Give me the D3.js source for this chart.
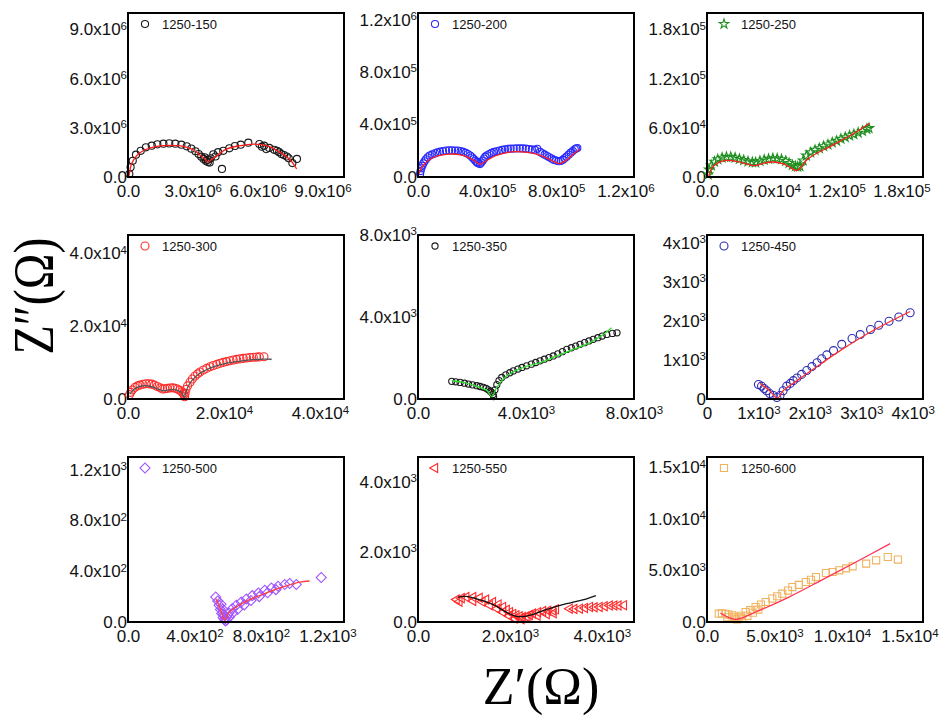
<!DOCTYPE html>
<html><head><meta charset="utf-8">
<script src="https://cdn.jsdelivr.net/npm/d3@7"></script>
<style>
body{margin:0;background:#fff;}
svg{display:block;font-family:"Liberation Sans",Arial,sans-serif;}
</style></head><body>
<svg id="fig" width="940" height="720"></svg>
<script>
// Sample names (sintering 1250 °C, second temperature)
const samples = ["1250-150","1250-200","1250-250","1250-300","1250-350","1250-450","1250-500","1250-550","1250-600"];
// Each panel's values are stored in this unit (Ω)
const units = [1e6,1e5,1e4,1e3,1e3,1e3,1e2,1e3,1e3];

// measured impedance [Z', Z''] and equivalent-circuit fit, per sample
const pts150 = [[0.06,0.18],[0.12,0.59],[0.22,0.99],[0.37,1.36],[0.59,1.60],[0.83,1.81],[1.10,1.91],[1.36,1.99],[1.64,2.03],[1.91,2.05],[2.19,2.03],[2.47,1.97],[2.72,1.87],[2.93,1.73],[3.12,1.57],[3.27,1.40],[3.39,1.24],[3.50,1.10],[3.55,1.20],[3.61,0.98],[3.68,1.05],[3.70,0.91],[3.78,0.88],[3.83,1.14],[3.95,1.38],[4.05,1.25],[4.17,1.51],[4.41,1.60],[4.69,1.75],[4.95,1.89],[5.22,1.97],[5.57,2.09],[6.08,2.01],[6.20,1.85],[6.30,1.91],[6.40,1.70],[6.54,1.77],[6.77,1.66],[6.90,1.60],[7.00,1.51],[7.10,1.40],[7.22,1.34],[7.35,1.25],[7.44,1.14],[7.61,0.85],[7.82,1.10],[4.35,0.49]];
const fit150 = [[0.0,0.0],[0.04,0.08],[0.16,0.79],[0.40,1.30],[0.79,1.66],[1.33,1.87],[1.95,1.93],[2.56,1.87],[3.02,1.66],[3.33,1.34],[3.56,1.10],[3.70,0.91],[3.85,1.05],[4.17,1.35],[4.57,1.71],[5.19,1.91],[5.80,2.01],[6.42,1.91],[7.04,1.50],[7.50,1.05],[7.81,0.49]];

const pts200 = [[0.12,0.23],[0.15,0.45],[0.19,0.66],[0.25,0.85],[0.31,1.04],[0.38,1.20],[0.46,1.35],[0.56,1.50],[0.68,1.63],[0.82,1.72],[0.98,1.80],[1.12,1.87],[1.27,1.93],[1.45,1.97],[1.62,2.01],[1.80,2.03],[1.97,2.03],[2.15,2.02],[2.31,2.01],[2.47,1.97],[2.62,1.91],[2.76,1.84],[2.89,1.75],[3.02,1.63],[3.13,1.50],[3.23,1.37],[3.32,1.24],[3.40,1.13],[3.47,1.04],[3.59,0.99],[3.66,1.10],[3.74,1.24],[3.82,1.40],[3.90,1.55],[4.00,1.65],[4.13,1.75],[4.26,1.83],[4.40,1.91],[4.55,1.96],[4.71,2.01],[4.87,2.06],[5.03,2.11],[5.20,2.14],[5.36,2.16],[5.54,2.17],[5.71,2.18],[5.89,2.19],[6.06,2.18],[6.24,2.16],[6.41,2.13],[6.59,2.10],[6.77,2.06],[6.90,2.15],[7.06,1.91],[7.20,1.80],[7.33,1.70],[7.47,1.60],[7.60,1.50],[7.74,1.40],[7.87,1.30],[8.00,1.25],[8.14,1.20],[8.26,1.22],[8.37,1.30],[8.48,1.42],[8.60,1.55],[8.72,1.70],[8.84,1.85],[8.96,1.98],[9.07,2.11],[9.15,2.17],[9.22,2.21]];
const fit200 = [[0.0,0.02],[0.12,0.5],[0.35,0.95],[0.7,1.35],[1.2,1.62],[1.8,1.75],[2.4,1.70],[2.9,1.50],[3.3,1.22],[3.6,0.98],[4.0,1.28],[4.5,1.62],[5.0,1.82],[5.6,1.93],[6.2,1.90],[6.8,1.76],[7.4,1.48],[7.9,1.15],[8.2,1.02],[8.6,1.30],[9.0,1.75],[9.35,2.10]];

const pts250 = [[0.1,0.3],[0.2,0.9],[0.4,1.4],[0.7,1.85],[1.0,2.15],[1.4,2.35],[1.8,2.45],[2.2,2.45],[2.6,2.35],[3.0,2.2],[3.4,2.05],[3.8,1.9],[4.2,1.8],[4.5,1.78],[4.9,1.95],[5.3,2.1],[5.7,2.2],[6.1,2.28],[6.5,2.25],[6.9,2.15],[7.3,1.95],[7.6,1.7],[7.9,1.45],[8.2,1.3],[8.4,1.25],[8.6,1.3],[8.9,2.0],[9.2,2.6],[9.6,3.0],[10.0,3.3],[10.4,3.5],[10.8,3.75],[11.2,3.95],[11.6,4.2],[12.0,4.4],[12.4,4.65],[12.8,4.85],[13.2,5.05],[13.6,5.2],[14.0,5.4],[14.4,5.6],[14.8,5.85],[15.0,5.95]];
const fit250 = [[0.0,0.0],[0.12,0.04],[0.43,1.06],[1.05,1.75],[1.82,2.03],[2.75,1.91],[3.67,1.59],[4.44,1.38],[5.21,1.67],[6.14,1.83],[7.06,1.59],[7.84,1.06],[8.30,0.77],[8.77,1.26],[9.23,2.07],[10.16,2.89],[11.39,3.70],[12.62,4.60],[13.86,5.52],[15.03,6.55]];

const pts300 = [[0.3,1.2],[0.56,1.82],[0.9,2.5],[1.46,3.18],[2.0,3.6],[2.5,3.82],[3.1,4.05],[3.75,4.18],[4.35,4.15],[4.93,4.09],[5.5,3.8],[6.11,3.45],[6.7,3.05],[7.22,2.73],[7.7,2.8],[8.19,2.91],[8.75,3.02],[9.31,3.09],[9.8,2.95],[10.28,2.73],[10.75,2.4],[11.18,2.0],[11.5,1.6],[11.67,1.2],[11.8,0.6],[11.9,1.6],[12.08,2.6],[12.4,3.6],[12.92,4.6],[13.4,5.5],[13.96,6.3],[14.5,6.9],[15.0,7.4],[15.7,7.95],[16.39,8.4],[17.1,8.85],[17.78,9.2],[18.5,9.5],[19.17,9.8],[19.86,10.05],[20.56,10.27],[21.25,10.5],[21.94,10.7],[22.63,10.88],[23.33,11.0],[24.03,11.15],[24.72,11.27],[25.4,11.38],[26.11,11.45],[26.8,11.5],[27.36,11.55],[28.33,11.6]];
const fit300 = [[0.35,1.36],[1.5,2.9],[2.6,3.5],[3.82,3.64],[5.3,3.2],[7.29,2.27],[8.3,2.45],[9.44,2.55],[10.4,2.3],[11.18,1.82],[11.67,0.45],[12.57,3.64],[14.31,6.36],[17.08,8.45],[20.56,9.82],[24.03,10.55],[27.5,10.91],[29.93,10.91]];

const pts350 = [[1.25,0.86],[1.4,0.84],[1.56,0.81],[1.72,0.77],[1.87,0.73],[2.02,0.69],[2.18,0.65],[2.3,0.61],[2.42,0.57],[2.52,0.52],[2.61,0.45],[2.68,0.38],[2.73,0.32],[2.78,0.22],[2.8,0.12],[2.85,0.45],[2.92,0.7],[3.0,0.9],[3.1,1.05],[3.25,1.18],[3.4,1.28],[3.53,1.37],[3.7,1.46],[3.85,1.54],[4.02,1.62],[4.2,1.7],[4.36,1.78],[4.52,1.86],[4.68,1.94],[4.85,2.02],[5.01,2.1],[5.18,2.2],[5.35,2.31],[5.51,2.42],[5.68,2.5],[5.84,2.58],[6.0,2.67],[6.17,2.75],[6.33,2.83],[6.49,2.91],[6.66,2.99],[6.82,3.07],[6.99,3.15],[7.2,3.2],[7.37,3.23]];
const fit350 = [[1.25,0.89],[1.68,0.81],[2.18,0.62],[2.55,0.42],[2.73,0.12],[2.92,0.57],[3.29,1.13],[3.9,1.54],[4.52,1.78],[5.14,2.1],[5.75,2.42],[6.37,2.75],[6.86,3.15],[7.17,3.48]];

const pts450 = [[1.00,0.37],[1.06,0.33],[1.11,0.27],[1.16,0.21],[1.22,0.14],[1.29,0.09],[1.36,0.04],[1.42,0.09],[1.48,0.21],[1.55,0.33],[1.62,0.40],[1.68,0.47],[1.75,0.54],[1.84,0.63],[1.94,0.73],[2.04,0.83],[2.14,0.93],[2.23,1.03],[2.33,1.13],[2.46,1.24],[2.62,1.40],[2.82,1.55],[2.98,1.65],[3.18,1.78],[3.34,1.89],[3.54,1.99],[3.73,2.10],[3.95,2.21]];
const fit450 = [[1.03,0.40],[1.22,0.21],[1.37,0.02],[1.48,0.21],[1.75,0.47],[2.07,0.77],[2.59,1.24],[3.24,1.76],[3.95,2.24]];

const pts500 = [[5.28,1.97],[5.40,1.66],[5.48,1.32],[5.56,0.98],[5.60,1.40],[5.64,0.66],[5.70,1.00],[5.72,0.35],[5.75,0.60],[5.80,0.19],[5.86,0.08],[5.92,0.39],[5.95,0.15],[6.08,0.71],[6.10,0.40],[6.28,1.06],[6.30,0.70],[6.52,1.32],[6.60,1.00],[6.82,1.58],[7.00,1.35],[7.12,1.81],[7.40,1.70],[7.48,2.08],[7.85,2.29],[7.90,2.00],[8.23,2.50],[8.40,2.30],[8.63,2.68],[8.90,2.55],[9.03,2.81],[9.43,2.95],[9.73,3.03],[10.13,2.95],[11.63,3.50]];
const fit500 = [[5.28,1.84],[5.52,1.18],[5.72,0.39],[5.82,0.14],[6.02,0.66],[6.52,1.18],[7.32,1.76],[8.33,2.29],[9.33,2.76],[10.33,3.15],[10.93,3.23]];

const pts550 = [[0.84,0.64],[0.95,0.68],[1.05,0.71],[1.2,0.71],[1.34,0.69],[1.48,0.64],[1.63,0.57],[1.75,0.5],[1.85,0.43],[1.93,0.35],[2.0,0.28],[2.07,0.23],[2.14,0.19],[2.21,0.16],[2.28,0.14],[2.36,0.16],[2.43,0.2],[2.5,0.24],[2.61,0.28],[2.72,0.31],[2.83,0.32],[2.94,0.33],[3.0,0.36],[0.9,0.58],[1.2,0.6],[1.4,0.58],[1.56,0.48],[1.72,0.38],[1.85,0.28],[1.98,0.18],[2.1,0.1],[2.25,0.08],[2.4,0.12],[2.6,0.18],[2.8,0.22],[2.95,0.25],[3.3,0.38],[3.4,0.37],[3.52,0.38],[3.63,0.4],[3.74,0.43],[3.84,0.42],[3.95,0.43],[4.06,0.45],[4.17,0.47],[4.27,0.47],[4.36,0.47],[4.48,0.48]];
const fit550 = [[0.87,0.71],[1.05,0.73],[1.34,0.63],[1.63,0.5],[1.92,0.28],[2.14,0.16],[2.36,0.17],[2.79,0.35],[3.23,0.52],[3.67,0.66],[3.87,0.75]];

const pts600 = [[0.87,0.81],[1.1,0.85],[1.37,0.8],[1.5,0.45],[1.6,0.72],[1.86,0.65],[2.0,0.5],[2.11,0.33],[2.2,0.25],[2.35,0.45],[2.5,0.6],[2.6,0.35],[2.86,0.97],[3.0,0.6],[3.2,1.15],[3.4,0.9],[3.6,1.45],[3.8,1.2],[4.0,1.7],[4.35,1.94],[4.84,2.27],[5.2,2.5],[5.58,2.75],[6.0,3.05],[6.32,3.39],[6.8,3.6],[7.32,3.88],[7.7,4.1],[8.07,4.36],[8.81,4.75],[9.3,4.85],[9.8,5.01],[10.3,5.2],[10.79,5.4],[11.79,5.66],[12.53,5.98],[13.39,6.3],[14.14,6.05]];
const fit600 = [[0.99,0.87],[2.11,0.26],[3.6,0.97],[6.07,2.42],[8.56,4.11],[11.04,5.82],[13.57,7.6]];

// axis ranges (same unit as the data of each panel)
const axisMax = [10, 12.5, 20, 45, 8, 4.2, 13, 4.7, 16];
const tickVals = [[0,3,6,9],[0,4,8,12],[0,6,12,18],[0,20,40],[0,4,8],[0,1,2,3,4],[0,4,8,12],[0,2,4],[0,5,10,15]];
// tick labels as [mantissa, exponent]
const tickText = [
  [["0.0"],["3.0x10","6"],["6.0x10","6"],["9.0x10","6"]],
  [["0.0"],["4.0x10","5"],["8.0x10","5"],["1.2x10","6"]],
  [["0.0"],["6.0x10","4"],["1.2x10","5"],["1.8x10","5"]],
  [["0.0"],["2.0x10","4"],["4.0x10","4"]],
  [["0.0"],["4.0x10","3"],["8.0x10","3"]],
  [["0"],["1x10","3"],["2x10","3"],["3x10","3"],["4x10","3"]],
  [["0.0"],["4.0x10","2"],["8.0x10","2"],["1.2x10","3"]],
  [["0.0"],["2.0x10","3"],["4.0x10","3"]],
  [["0.0"],["5.0x10","3"],["1.0x10","4"],["1.5x10","4"]]
];

const points = [pts150, pts200, pts250, pts300, pts350, pts450, pts500, pts550, pts600];
const fits = [fit150, fit200, fit250, fit300, fit350, fit450, fit500, fit550, fit600];

// marker and line styling
const markerType = ["circle","circle","star","circle","circle","circle","diamond","triangleLeft","square"];
const markerColor = ["#1a1a1a","#2a2aff","#1f8f1f","#ff2a2a","#1a1a1a","#2b2bb0","#a055ff","#ff2a2a","#f0b460"];
const markerSize = [40, 40, 28, 50, 30, 50, 50, 36, 50];
const fitColor = ["#ff1a1a","#ff2020","#ff2020","#555555","#33e033","#ff3030","#ff4040","#111111","#ff3355"];

const colX = [[128,344],[418,634],[707,923]];
const rowY = [[13,177],[235,399],[457,622]];

const svg = d3.select("#fig");

function symbolPath(type, size) {
  const sym = {circle:d3.symbolCircle, star:d3.symbolStar, diamond:d3.symbolSquare,
               triangleLeft:d3.symbolTriangle, square:d3.symbolSquare}[type];
  return d3.symbol().type(sym).size(size)();
}
function symbolRotate(type) {
  return type === "diamond" ? 45 : type === "triangleLeft" ? -90 : 0;
}

function setTickText(sel, labels) {
  sel.selectAll(".tick text").each(function(d, i) {
    const t = d3.select(this);
    const lab = labels[i];
    t.text(null);
    t.append("tspan").text(lab[0]);
    if (lab[1]) t.append("tspan").attr("dy", "-0.48em").attr("font-size", 11.5).text(lab[1]);
  });
}

samples.forEach((name, i) => {
  const [x0, x1] = colX[i % 3];
  const [y0, y1] = rowY[Math.floor(i / 3)];
  const w = x1 - x0, h = y1 - y0;
  const g = svg.append("g").attr("transform", `translate(${x0},${y0})`);

  const x = d3.scaleLinear().domain([0, axisMax[i]]).range([0, w]);
  const y = d3.scaleLinear().domain([0, axisMax[i]]).range([h, 0]);

  // axes (labels only, the frame is drawn separately)
  const ax = g.append("g").attr("transform", `translate(0,${h})`)
    .call(d3.axisBottom(x).tickValues(tickVals[i]).tickSize(0).tickPadding(8));
  const ay = g.append("g")
    .call(d3.axisLeft(y).tickValues(tickVals[i]).tickSize(0).tickPadding(1));
  [ax, ay].forEach(a => {
    a.attr("font-size", 17).attr("font-family", null);
    a.select(".domain").remove();
    a.selectAll(".tick text").attr("fill", "#111");
    setTickText(a, tickText[i]);
  });

  // measured points
  const rot = symbolRotate(markerType[i]);
  const path = symbolPath(markerType[i], markerSize[i]);
  g.append("g").selectAll("path").data(points[i]).join("path")
    .attr("d", path)
    .attr("transform", d => `translate(${x(d[0])},${y(d[1])}) rotate(${rot})`)
    .attr("fill", "none")
    .attr("stroke", markerColor[i])
    .attr("stroke-width", 1.1);

  // fitted curve
  const line = d3.line().x(d => x(d[0])).y(d => y(d[1])).curve(d3.curveCatmullRom.alpha(0.5));
  g.append("path").datum(fits[i]).attr("d", line)
    .attr("fill", "none").attr("stroke", fitColor[i]).attr("stroke-width", 1.3);

  // legend
  g.append("path").attr("d", path)
    .attr("transform", `translate(17,11) rotate(${rot})`)
    .attr("fill", "none").attr("stroke", markerColor[i]).attr("stroke-width", 1.1);
  g.append("text").attr("x", 34).attr("y", 11).attr("dy", "0.36em")
    .attr("font-size", 13).attr("fill", "#111").text(name);

  // frame
  g.append("rect").attr("width", w).attr("height", h)
    .attr("fill", "none").attr("stroke", "#000").attr("stroke-width", 2);
});

// axis titles
svg.append("text").attr("x", 541).attr("y", 704).attr("text-anchor", "middle")
  .attr("font-family", "'Liberation Serif','Times New Roman',serif").attr("font-size", 52)
  .attr("fill", "#000").text("Z′(Ω)");
svg.append("text").attr("text-anchor", "middle")
  .attr("transform", "translate(53,296) rotate(-90) scale(1,1.2)")
  .attr("font-family", "'Liberation Serif','Times New Roman',serif").attr("font-size", 48)
  .attr("fill", "#000").text("Z″(Ω)");
</script>
</body></html>
